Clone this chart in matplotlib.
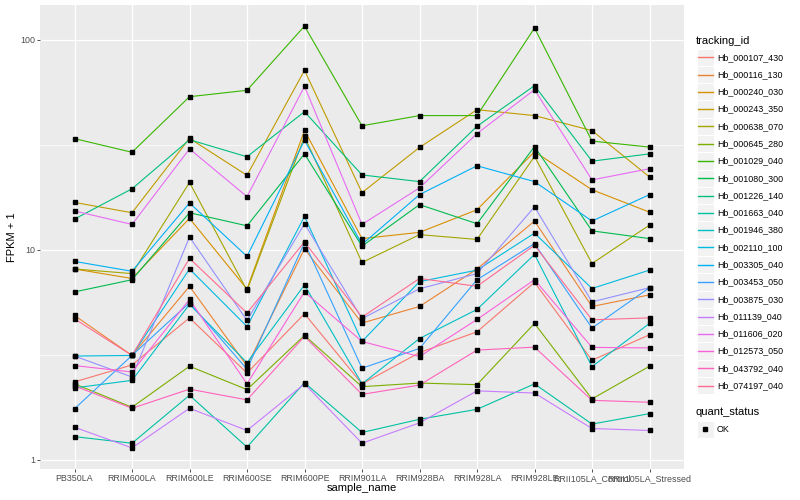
import numpy as np
import matplotlib.pyplot as plt
from matplotlib.patches import Rectangle
from matplotlib.lines import Line2D

plt.rcParams['font.family'] = ['Liberation Sans', 'DejaVu Sans']

## the data (FPKM + 1)
samples = ['PB350LA', 'RRIM600LA', 'RRIM600LE', 'RRIM600SE', 'RRIM600PE', 'RRIM901LA',
           'RRIM928BA', 'RRIM928LA', 'RRIM928LE', 'RRII105LA_Control', 'RRII105LA_Stressed']

genes = ['Hb_000107_430', 'Hb_000116_130', 'Hb_000240_030', 'Hb_000243_350', 'Hb_000638_070',
         'Hb_000645_280', 'Hb_001029_040', 'Hb_001080_300', 'Hb_001226_140', 'Hb_001663_040',
         'Hb_001946_380', 'Hb_002110_100', 'Hb_003305_040', 'Hb_003453_050', 'Hb_003875_030',
         'Hb_011139_040', 'Hb_011606_020', 'Hb_012573_050', 'Hb_043792_040', 'Hb_074197_040']

colors = ['#F8766D', '#EA8331', '#D89000', '#C09B00', '#A3A500', '#7CAE00', '#39B600',
          '#00BB4E', '#00BF7D', '#00C1A3', '#00BFC4', '#00BAE0', '#00B0F6', '#35A2FF',
          '#9590FF', '#C77CFF', '#E76BF3', '#FA62DB', '#FF62BC', '#FF6C91']

hb_000107_430 = [2.35, 2.83, 4.74, 2.59, 4.96, 2.30, 3.24, 4.07, 7.0, 2.98, 3.94]
hb_000116_130 = [4.87, 3.14, 6.7, 2.80, 10.1, 4.48, 5.37, 8.1, 13.7, 5.37, 6.1]
hb_000240_030 = [8.1, 7.3, 14.1, 6.5, 37.0, 11.3, 12.1, 15.5, 29.3, 19.3, 15.1]
hb_000243_350 = [16.8, 15.0, 33.9, 22.6, 71.4, 18.7, 30.7, 46.4, 43.5, 36.9, 22.2]
hb_000638_070 = [8.1, 7.7, 20.9, 6.4, 34.6, 8.7, 11.8, 11.2, 27.8, 8.6, 13.1]
hb_000645_280 = [2.30, 1.78, 2.79, 2.16, 3.91, 2.23, 2.32, 2.28, 4.46, 1.95, 2.79]
hb_001029_040 = [33.8, 29.1, 53.5, 57.4, 116, 38.9, 43.5, 43.5, 113.6, 32.9, 30.8]
hb_001080_300 = [6.3, 7.2, 15.0, 13.0, 28.6, 10.4, 16.4, 13.3, 31.0, 12.3, 11.3]
hb_001226_140 = [14.0, 19.5, 33.4, 27.7, 45.4, 22.7, 21.1, 38.7, 60.4, 26.4, 28.6]
hb_001663_040 = [1.29, 1.20, 2.03, 1.15, 2.33, 1.35, 1.56, 1.74, 2.30, 1.48, 1.66]
hb_001946_380 = [2.20, 2.39, 5.5, 2.9, 6.8, 2.30, 3.78, 5.2, 9.5, 2.78, 4.46]
hb_002110_100 = [3.12, 3.14, 8.1, 4.31, 14.4, 3.66, 7.05, 8.0, 12.0, 6.54, 8.0]
hb_003305_040 = [8.8, 7.9, 16.7, 9.3, 33.2, 10.6, 18.3, 25.1, 21.1, 13.7, 18.3]
hb_003453_050 = [1.75, 3.14, 5.6, 2.7, 10.8, 2.73, 3.39, 7.2, 10.7, 4.24, 6.6]
hb_003875_030 = [3.12, 2.48, 11.5, 4.61, 13.3, 4.7, 6.52, 7.7, 16.0, 5.65, 6.6]
hb_011139_040 = [1.43, 1.14, 1.76, 1.38, 2.30, 1.20, 1.50, 2.13, 2.08, 1.41, 1.38]
hb_011606_020 = [15.3, 13.2, 30.2, 17.9, 59.9, 13.2, 19.7, 35.7, 57.8, 21.5, 24.3]
hb_012573_050 = [2.81, 2.62, 5.8, 2.30, 6.3, 3.66, 3.10, 4.66, 7.2, 3.43, 3.41]
hb_043792_040 = [2.25, 1.76, 2.17, 1.93, 3.87, 2.05, 2.27, 3.33, 3.44, 1.92, 1.88]
hb_074197_040 = [4.69, 3.14, 9.1, 5.0, 10.9, 4.78, 7.3, 6.7, 10.5, 4.64, 4.74]

values = [hb_000107_430, hb_000116_130, hb_000240_030, hb_000243_350, hb_000638_070,
          hb_000645_280, hb_001029_040, hb_001080_300, hb_001226_140, hb_001663_040,
          hb_001946_380, hb_002110_100, hb_003305_040, hb_003453_050, hb_003875_030,
          hb_011139_040, hb_011606_020, hb_012573_050, hb_043792_040, hb_074197_040]

fig = plt.figure(figsize=(8, 5), dpi=100)
ax = fig.add_axes([40/800, 31/500, 644/800, 464/500])
ax.set_facecolor('#EBEBEB')

x = np.arange(len(samples))

## lines + points
for vals, col in zip(values, colors):
    ax.plot(x, vals, color=col, lw=0.8, zorder=3)
for vals in values:
    ax.plot(x, vals, 's', color='black', ms=2.6, zorder=4, ls='none')

# axes and grid (ggplot grey look)
ax.set_yscale('log')
lo = np.log10(min(min(v) for v in values))
hi = np.log10(max(max(v) for v in values))
pad = 0.05 * (hi - lo)
ax.set_ylim(10**(lo - pad), 10**(hi + pad))
ax.set_xlim(-0.6, len(samples) - 0.4)

ax.set_yticks([1, 10, 100])
ax.set_yticklabels(['1', '10', '100'])
ax.set_yticks([10**0.5, 10**1.5], minor=True)
ax.yaxis.set_minor_formatter(plt.NullFormatter())
ax.set_xticks(x)
ax.set_xticklabels(samples)

ax.grid(True, which='major', color='white', lw=0.9, zorder=0)
ax.grid(True, which='minor', axis='y', color='white', lw=0.45, zorder=0)
ax.set_axisbelow(True)
for s in ax.spines.values():
    s.set_visible(False)
ax.tick_params(which='major', length=2.2, width=0.6, color='#333333',
               labelcolor='#4D4D4D', labelsize=6.4, pad=1.5)
ax.tick_params(which='minor', length=0)

ax.set_xlabel('sample_name', fontsize=8)
ax.set_ylabel('FPKM + 1', fontsize=8)
ax.xaxis.set_label_coords(0.5, -0.031)
ax.yaxis.set_label_coords(-0.036, 0.5)

## legend drawn by hand (ggplot style keys)
def fx(px):
    return px / 800

def fy(py):
    return 1 - py / 500

fig.text(fx(696), fy(40.7), 'tracking_id', fontsize=8, va='center', ha='left')
step = 17.28
for i, (g, col) in enumerate(zip(genes, colors)):
    yc = 57.3 + step * i
    fig.patches.append(Rectangle((fx(696.5), fy(yc + step/2)), fx(17), step/500,
                                 transform=fig.transFigure, facecolor='#F2F2F2',
                                 edgecolor='white', lw=0.8))
    fig.lines.append(Line2D([fx(698), fx(712.5)], [fy(yc), fy(yc)], color=col, lw=1.0,
                            transform=fig.transFigure))
    fig.text(fx(717), fy(yc), g, fontsize=6.4, va='center', ha='left')

fig.text(fx(696), fy(412.3), 'quant_status', fontsize=8, va='center', ha='left')
fig.patches.append(Rectangle((fx(696.5), fy(429.3 + step/2)), fx(17), step/500,
                             transform=fig.transFigure, facecolor='#F2F2F2',
                             edgecolor='white', lw=0.8))
fig.lines.append(Line2D([fx(705)], [fy(429.3)], marker='s', color='black', ms=2.6,
                        transform=fig.transFigure))
fig.text(fx(717), fy(429.3), 'OK', fontsize=6.4, va='center', ha='left')

plt.savefig('out.png', dpi=100)
